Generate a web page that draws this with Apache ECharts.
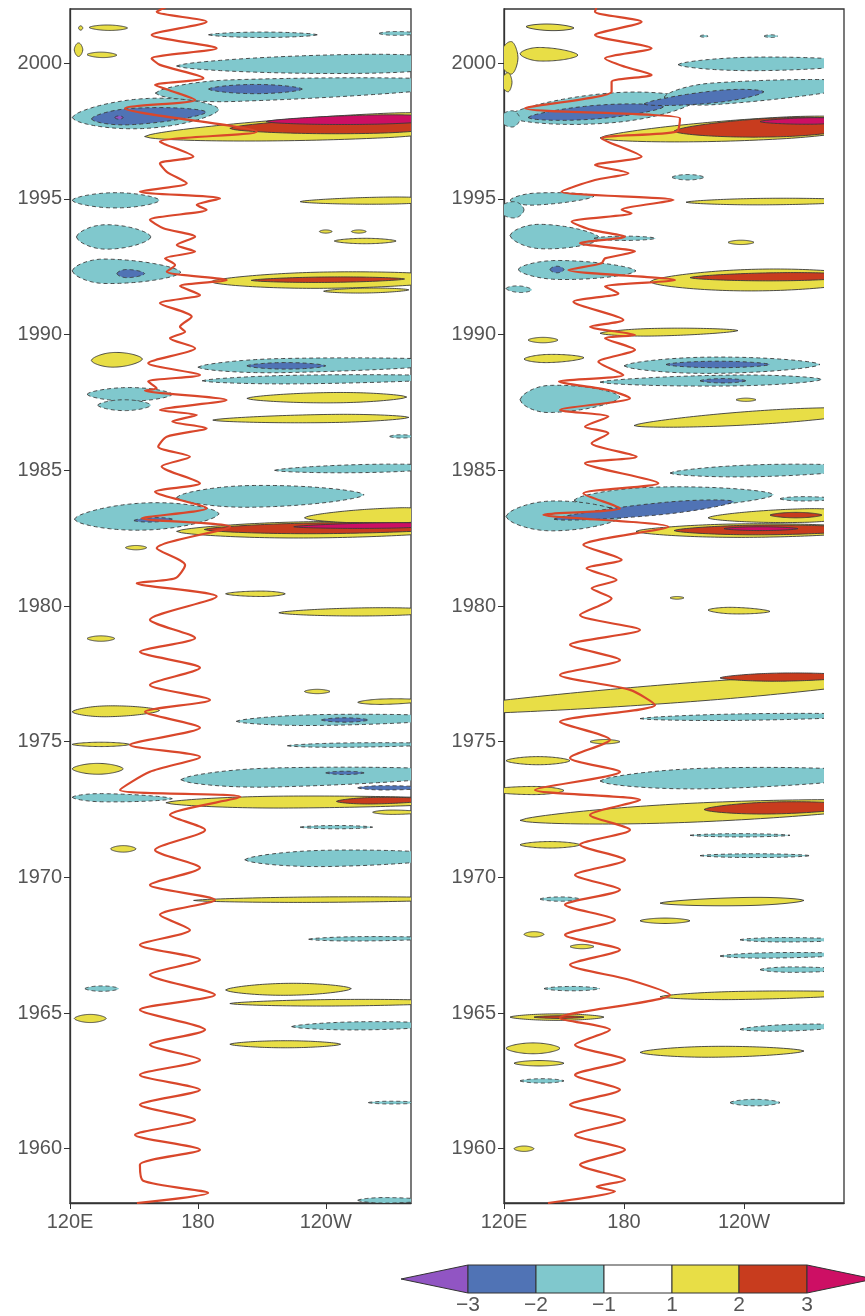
<!DOCTYPE html>
<html><head><meta charset="utf-8">
<script src="https://cdn.jsdelivr.net/npm/echarts@6/dist/echarts.min.js"></script>
<style>html,body{margin:0;padding:0;background:#fff}#c{width:865px;height:1316px}</style>
</head><body><div id="c"></div>
<script>
// ---------- data ----------
const levels = [-3, -2, -1, 1, 2, 3];
const binColors = ['#9155C3', '#5073B5', '#80C8CD', '#FFFFFF', '#E8DE46', '#C83C1E', '#CD0F64'];
const yTicks = [1960, 1965, 1970, 1975, 1980, 1985, 1990, 1995, 2000];
const xTicks = [120, 180, 240];
const xTickLabels = ['120E', '180', '120W'];

// blobs: [lonStart, lonEnd, yearAtStart, yearAtEnd, halfThickness(yr), level, peakPos]
const leftBlobs = [
 [129,147,2001.32,2001.3,0.1,1],[124,126,2001.3,2001.3,0.08,1],[128,142,2000.32,2000.3,0.1,1],[122,126,2000.5,2000.5,0.25,1],
 [185,236,2001.05,2001.05,0.1,-1],[265,280,2001.1,2001.1,0.07,-1],
 [170,280,1999.9,2000.0,0.35,-1,0.8],[160,280,1998.9,1999.2,0.4,-1,0.3],[121,190,1998.0,1998.3,0.55,-1],
 [185,229,1999.05,1999.05,0.17,-2],[130,184,1997.95,1998.2,0.3,-2,0.35],[141,145,1998.0,1998.0,0.06,-3],
 [155,280,1997.3,1997.75,0.45,1,0.9],[195,280,1997.6,1997.75,0.3,2,0.8],[212,280,1997.85,1997.95,0.17,3,0.75],
 [121,162,1994.95,1994.95,0.28,-1],[228,280,1994.9,1994.95,0.13,1,0.8],
 [123,158,1993.6,1993.6,0.45,-1,0.4],[237,243,1993.8,1993.8,0.06,1],[252,259,1993.8,1993.8,0.06,1],[244,273,1993.45,1993.45,0.1,1],
 [121,172,1992.35,1992.3,0.45,-1,0.3],[142,155,1992.25,1992.25,0.15,-2,0.35],
 [186,280,1991.95,1992.05,0.3,1,0.6],[205,277,1992.0,1992.05,0.1,2],[239,279,1991.6,1991.65,0.09,1],
 [130,154,1989.05,1989.1,0.27,1,0.45],[180,280,1988.8,1988.95,0.26,-1,0.4],[182,280,1988.3,1988.4,0.16,-1],[203,240,1988.85,1988.85,0.12,-2],
 [128,168,1987.8,1987.8,0.25,-1],[133,158,1987.4,1987.4,0.2,-1],[203,278,1987.65,1987.7,0.19,1,0.55],[187,279,1986.85,1986.95,0.15,1,0.6],
 [270,280,1986.25,1986.25,0.06,-1],[216,280,1985.0,1985.1,0.15,-1,0.7],
 [170,258,1984.0,1984.1,0.4,-1,0.4],[122,190,1983.2,1983.4,0.5,-1],[150,168,1983.15,1983.2,0.08,-2],
 [170,280,1982.75,1982.85,0.3,1,0.6],[230,280,1983.25,1983.35,0.28,1,0.9],[183,280,1982.82,1982.9,0.2,2,0.6],[225,280,1982.92,1982.98,0.1,3,0.8],
 [146,156,1982.15,1982.15,0.08,1],[193,221,1980.45,1980.45,0.1,1,0.6],[218,280,1979.75,1979.8,0.15,1,0.7],[128,141,1978.8,1978.8,0.1,1],
 [230,242,1976.85,1976.85,0.08,1],[255,280,1976.45,1976.5,0.1,1],[121,162,1976.1,1976.15,0.2,1,0.4],
 [198,280,1975.75,1975.85,0.2,-1],[238,260,1975.8,1975.8,0.08,-2],[121,148,1974.9,1974.9,0.08,1],[222,280,1974.85,1974.9,0.08,-1],
 [121,145,1974.0,1974.0,0.2,1],[172,280,1973.6,1973.8,0.35,-1,0.4],[255,280,1973.3,1973.3,0.08,-2],[240,258,1973.85,1973.85,0.06,-2],
 [121,168,1972.95,1972.9,0.15,-1,0.3],[165,280,1972.75,1972.8,0.22,1],[245,280,1972.8,1972.85,0.12,2],[262,280,1972.4,1972.4,0.08,1],
 [228,262,1971.85,1971.85,0.06,-1],[139,151,1971.05,1971.05,0.12,1],[202,280,1970.65,1970.75,0.3,-1],
 [178,280,1969.15,1969.2,0.1,1,0.6],[232,280,1967.72,1967.75,0.08,-1],[127,143,1965.9,1965.9,0.1,-1],
 [193,252,1965.85,1965.9,0.22,1],[195,280,1965.35,1965.4,0.12,1,0.6],[122,137,1964.8,1964.8,0.15,1],[224,280,1964.5,1964.55,0.15,-1,0.6],
 [195,247,1963.85,1963.85,0.13,1],[260,280,1961.7,1961.7,0.05,-1],[255,280,1958.1,1958.1,0.1,-1]
];
const rightBlobs = [
 [120,127,2000.2,2000.2,0.6,1],[120,124,1999.3,1999.3,0.35,1],[131,155,2001.35,2001.3,0.12,1],[128,157,2000.35,2000.3,0.25,1,0.35],
 [218,222,2001.0,2001.0,0.04,-1],[250,257,2001.0,2001.0,0.05,-1],[207,280,1999.95,2000.0,0.25,-1,0.55],
 [122,215,1998.05,1998.6,0.55,-1,0.55],[200,280,1998.75,1999.15,0.4,-1,0.3],[120,128,1997.95,1997.95,0.3,-1],
 [132,200,1998.0,1998.4,0.25,-2],[190,250,1998.5,1998.95,0.22,-2,0.6],
 [168,280,1997.25,1997.7,0.4,1,0.8],[205,280,1997.5,1997.7,0.35,2,0.75],[248,280,1997.85,1997.88,0.12,3,0.85],
 [204,220,1995.8,1995.8,0.1,-1],[123,165,1994.95,1995.1,0.22,-1,0.3],[120,130,1994.6,1994.6,0.3,-1],[211,280,1994.88,1994.92,0.12,1,0.6],
 [123,168,1993.65,1993.55,0.45,-1,0.35],[165,196,1993.55,1993.55,0.08,-1],[127,186,1992.4,1992.35,0.35,-1,0.35],[143,150,1992.4,1992.4,0.12,-2],
 [121,134,1991.7,1991.65,0.12,-1],[232,245,1993.4,1993.4,0.08,1],[193,280,1991.95,1992.05,0.4,1,0.65],[213,280,1992.1,1992.15,0.15,2,0.7],
 [168,237,1990.05,1990.15,0.14,1,0.4],[132,147,1989.8,1989.8,0.1,1],[130,160,1989.1,1989.15,0.15,1,0.4],
 [180,278,1988.85,1988.9,0.3,-1,0.45],[201,253,1988.9,1988.9,0.12,-2],[168,279,1988.25,1988.35,0.2,-1,0.6],[218,241,1988.3,1988.3,0.08,-2],
 [128,178,1987.6,1987.7,0.5,-1,0.3],[236,246,1987.6,1987.6,0.06,1],[185,280,1986.65,1987.1,0.25,1,0.7],
 [203,280,1984.9,1985.05,0.22,-1,0.6],[155,255,1983.9,1984.1,0.4,-1,0.4],[258,280,1983.95,1983.95,0.08,-1],
 [121,180,1983.3,1983.35,0.55,-1,0.4],[145,235,1983.2,1983.85,0.22,-2,0.6],
 [186,280,1982.75,1982.8,0.25,1,0.6],[222,280,1983.25,1983.35,0.25,1,0.85],[205,280,1982.78,1982.82,0.18,2,0.6],[253,279,1983.35,1983.35,0.1,2],[230,267,1982.85,1982.85,0.07,3],
 [203,210,1980.3,1980.3,0.05,1],[222,253,1979.85,1979.8,0.12,1,0.4],
 [120,280,1976.3,1977.2,0.35,1,0.6],[228,280,1977.35,1977.4,0.15,2,0.6],[188,280,1975.85,1975.95,0.12,-1,0.6],
 [163,178,1975.0,1975.0,0.08,1],[121,153,1974.3,1974.3,0.15,1],[168,280,1973.55,1973.75,0.38,-1,0.5],[120,150,1973.2,1973.2,0.15,1],
 [128,280,1972.1,1972.6,0.35,1,0.6],[220,280,1972.5,1972.6,0.22,2,0.6],[213,263,1971.55,1971.55,0.06,-1],[128,158,1971.2,1971.2,0.12,1],
 [218,273,1970.8,1970.8,0.07,-1],[198,270,1969.05,1969.15,0.15,1,0.6],[138,158,1969.2,1969.2,0.08,-1],[188,213,1968.4,1968.4,0.1,1],
 [130,140,1967.9,1967.9,0.1,1],[153,165,1967.45,1967.45,0.08,1],[238,280,1967.7,1967.7,0.08,-1],[228,280,1967.1,1967.15,0.1,-1],[248,280,1966.6,1966.6,0.1,-1],
 [198,280,1965.6,1965.7,0.15,1,0.5],[140,168,1965.9,1965.9,0.08,-1],[123,170,1964.85,1964.85,0.12,1],[135,160,1964.85,1964.85,0.05,2],
 [238,280,1964.4,1964.5,0.12,-1,0.6],[188,270,1963.55,1963.6,0.2,1,0.45],[121,148,1963.7,1963.7,0.2,1],[125,150,1963.15,1963.15,0.1,1],
 [128,150,1962.5,1962.5,0.08,-1],[233,258,1961.7,1961.7,0.12,-1],[125,135,1960.0,1960.0,0.1,1]
];

// red line: [longitude, year]
const leftLine = [
 [165.4,2002.08],[160.7,2001.9],[184.1,2001.53],[158.3,2001.04],[188.8,2000.55],[158.3,2000.18],[162.2,1999.94],[182.6,1999.45],[159.9,1999.2],[166.9,1999.0],[178.7,1998.65],[145.8,1998.34],[207.6,1997.48],[162.2,1997.11],[177.9,1996.56],[162.2,1996.31],[165.4,1996.0],[174.8,1995.58],[152.8,1995.27],[190.4,1995.02],[179.5,1994.78],[184.1,1994.6],[157.5,1994.23],[163.8,1993.92],[178.7,1993.61],[170.1,1993.3],[178.7,1993.06],[164.6,1992.81],[169.3,1992.57],[165.4,1992.32],[193.5,1992.01],[171.6,1991.79],[181.0,1991.46],[162.2,1991.16],[177.1,1990.66],[171.6,1990.29],[174.0,1990.11],[166.9,1989.87],[178.7,1989.5],[156.7,1988.95],[181.0,1988.51],[156.7,1988.27],[160.7,1988.02],[155.2,1987.94],[193.5,1987.59],[162.2,1987.22],[179.5,1987.04],[168.0,1986.8],[184.1,1986.55],[165.4,1986.24],[161.4,1985.87],[176.3,1985.5],[163.0,1985.14],[181.0,1984.52],[159.9,1984.21],[184.1,1983.6],[153.6,1983.23],[195.1,1982.92],[160.7,1982.13],[174.0,1981.51],[169.3,1981.02],[151.3,1980.84],[188.8,1980.35],
 [157.5,1979.49],[178.7,1978.82],[152.8,1978.31],[181.0,1977.72],[157.5,1977.09],[185.7,1976.54],[155.2,1976.1],[181.0,1975.51],[148.2,1974.88],[181.0,1974.44],[157.5,1973.89],[143.5,1973.22],[199.8,1972.97],[166.9,1972.3],[183.4,1971.75],[159.9,1971.01],[181.0,1970.35],[157.5,1969.72],[188.0,1969.17],[162.2,1968.62],[176.3,1968.06],[152.8,1967.51],[181.0,1966.96],[157.5,1966.41],[188.0,1965.67],[152.8,1965.12],[183.4,1964.38],[157.5,1963.83],[181.0,1963.27],[152.8,1962.72],[181.0,1962.17],[152.8,1961.62],[178.7,1961.06],[150.5,1960.51],[181.0,1959.96],[152.8,1959.41],[154.3,1958.82],[184.8,1958.37],[151.4,1958.0]
];
const rightLine = [
 [166.3,2002.08],[165.5,2001.9],[188.8,2001.53],[165.5,2001.04],[193.8,2000.55],[170.5,2000.18],[180.5,1999.87],[193.8,1999.57],[173.8,1999.32],[173.8,1998.95],[130.5,1998.34],[208,1997.97],[206.3,1997.48],[168.8,1997.23],[188.8,1996.56],[165.5,1996.25],[182.2,1995.95],[165.5,1995.7],[148.8,1995.27],[204.7,1994.96],[178.8,1994.6],[183.8,1994.47],[153.8,1994.16],[163.8,1993.86],[180.5,1993.61],[158,1993.37],[185.5,1993.06],[170.5,1992.81],[168.8,1992.63],[152.2,1992.38],[205.5,1992.01],[170.5,1991.77],[177.2,1991.52],[154.7,1991.21],[179.7,1990.54],[163,1990.29],[185.5,1989.99],[170.5,1989.87],[185.5,1989.44],[167.2,1989.0],[179.7,1988.51],[147.5,1988.27],[172.2,1987.96],[183,1987.66],[148,1987.22],[172.2,1986.98],[160.5,1986.61],[172.2,1986.37],[163.8,1986.0],[186.3,1985.5],[160.5,1985.26],[197.2,1984.52],[159.7,1984.15],[178,1983.6],[139.7,1983.36],[202.2,1982.92],[159.7,1982.25],[178.8,1981.7],[161.3,1981.39],[176.3,1980.96],[163.8,1980.65],[173.8,1980.28],
 [158,1979.67],[188,1979.12],[153,1978.57],[178,1978.01],[148,1977.46],[183,1976.91],[195.5,1976.35],[148,1975.73],[173,1975.07],[153,1974.4],[178,1973.89],[135.5,1973.22],[188,1972.85],[163,1972.3],[183,1971.75],[158,1971.2],[180.5,1970.64],[155.5,1970.09],[178,1969.54],[150.5,1968.99],[175.5,1968.43],[150.5,1967.88],[178,1967.33],[153,1966.78],[183,1966.22],[203,1965.67],[148,1964.82],[173,1964.38],[155.5,1963.83],[180.5,1963.27],[155.5,1962.72],[178,1962.17],[153,1961.62],[180.5,1961.06],[155.5,1960.51],[180.5,1959.96],[158,1959.41],[180.5,1958.85],[166.3,1958.6],[175.5,1958.43],[142,1958.0]
];

// ---------- rendering ----------
const FONT = 'Liberation Sans';
function levelColor(l) { return binColors[l + 3]; }
function prep(blobs) {
  return blobs.map(b => [b[0], b[1], b[2], b[3], b[4], b[5], b.length > 6 ? b[6] : 0.5])
              .sort((a, b) => Math.abs(a[5]) - Math.abs(b[5]));
}
function renderBlob(params, api) {
  const lon0 = api.value(0), lon1 = api.value(1), y0 = api.value(2), y1 = api.value(3);
  const h = api.value(4), lvl = api.value(5), p = api.value(6);
  const N = 48;
  const extL = lon0 <= 120.5 ? 0.3 : 0, extR = lon1 >= 279.5 ? 0.3 : 0;
  const tot = 1 + extL + extR, pv = (p + extL) / tot;
  const up = [], dn = [];
  for (let i = 0; i <= N; i++) {
    const t = i / N;
    const lon = lon0 + t * (lon1 - lon0);
    const c = y0 + t * (y1 - y0);
    const u = (t + extL) / tot;
    const s = u < pv ? 0.5 * u / pv : 0.5 + 0.5 * (u - pv) / (1 - pv);
    const f = Math.pow(Math.max(0, Math.sin(Math.PI * s)), 0.6);
    up.push(api.coord([lon, c + h * f]));
    dn.push(api.coord([lon, c - h * f]));
  }
  const poly = up.concat(dn.slice().reverse());
  const dash = lvl < 0 ? [4, 3] : null;
  const edgeStyle = { stroke: '#3a3a3a', lineWidth: 0.9, lineDash: dash, fill: null };
  return {
    type: 'group',
    children: [
      { type: 'polygon', shape: { points: poly }, style: { fill: levelColor(lvl), stroke: null } },
      { type: 'polyline', shape: { points: up }, style: edgeStyle },
      { type: 'polyline', shape: { points: dn }, style: edgeStyle }
    ]
  };
}

const chart = echarts.init(document.getElementById('c'), null, { renderer: 'canvas' });
const axisCommon = {
  type: 'value',
  axisLine: { show: true, lineStyle: { color: '#333', width: 1.3 } },
  splitLine: { show: false }
};
function xAx(idx, max) {
  return Object.assign({}, axisCommon, {
    gridIndex: idx, min: 120, max: max, interval: 60,
    axisTick: { show: true, length: 6, customValues: xTicks, lineStyle: { color: '#333' } },
    axisLabel: { customValues: xTicks, margin: 9, fontSize: 20, color: '#555', fontFamily: FONT,
      formatter: v => xTickLabels[xTicks.indexOf(v)] || '' }
  });
}
function yAx(idx) {
  return Object.assign({}, axisCommon, {
    gridIndex: idx, min: 1958, max: 2002, interval: 1,
    axisTick: { show: true, length: 6, customValues: yTicks, lineStyle: { color: '#333' } },
    axisLabel: { customValues: yTicks, margin: 8, fontSize: 20, color: '#555', fontFamily: FONT,
      formatter: v => String(v) }
  });
}
function blobSeries(idx, blobs) {
  return { type: 'custom', xAxisIndex: idx, yAxisIndex: idx, clip: true, silent: true,
    encode: { x: [0, 1], y: [2, 3] }, data: prep(blobs), renderItem: renderBlob, z: 2 };
}
function lineSeries(idx, d) {
  return { type: 'line', xAxisIndex: idx, yAxisIndex: idx, data: d, showSymbol: false, clip: true,
    smooth: 0.25, silent: true, lineStyle: { color: '#D9472B', width: 2.2 }, z: 5, animation: false };
}

// colour bar graphics built from levels/binColors
const cbX = [468, 536, 604, 672, 739, 807], cbTop = 1265, cbBot = 1293, cbMid = 1279;
const graphics = [];
graphics.push({ type: 'polygon', shape: { points: [[401, cbMid], [cbX[0], cbTop], [cbX[0], cbBot]] },
  style: { fill: binColors[0], stroke: '#333', lineWidth: 1 } });
for (let i = 0; i < cbX.length - 1; i++) {
  graphics.push({ type: 'rect', shape: { x: cbX[i], y: cbTop, width: cbX[i + 1] - cbX[i], height: cbBot - cbTop },
    style: { fill: binColors[i + 1], stroke: '#333', lineWidth: 1 } });
}
graphics.push({ type: 'polygon', shape: { points: [[cbX[5], cbTop], [cbX[5], cbBot], [874, cbMid]] },
  style: { fill: binColors[6], stroke: '#333', lineWidth: 1 } });
levels.forEach((l, i) => {
  graphics.push({ type: 'text', x: cbX[i], y: 1305,
    style: { text: (l < 0 ? '\u2212' : '') + Math.abs(l), fill: '#555', font: '21px ' + FONT, textAlign: 'center', textVerticalAlign: 'middle' } });
});

chart.setOption({
  animation: false,
  backgroundColor: '#fff',
  grid: [
    { left: 70, top: 9, width: 341, height: 1194, show: true, borderColor: '#333', borderWidth: 1.3, backgroundColor: '#fff' },
    { left: 504, top: 9, width: 340, height: 1194, show: true, borderColor: '#333', borderWidth: 1.3, backgroundColor: '#fff' }
  ],
  xAxis: [xAx(0, 280), xAx(1, 290)],
  yAxis: [yAx(0), yAx(1)],
  series: [blobSeries(0, leftBlobs), blobSeries(1, rightBlobs), lineSeries(0, leftLine), lineSeries(1, rightLine)],
  graphic: graphics
});
</script></body></html>
